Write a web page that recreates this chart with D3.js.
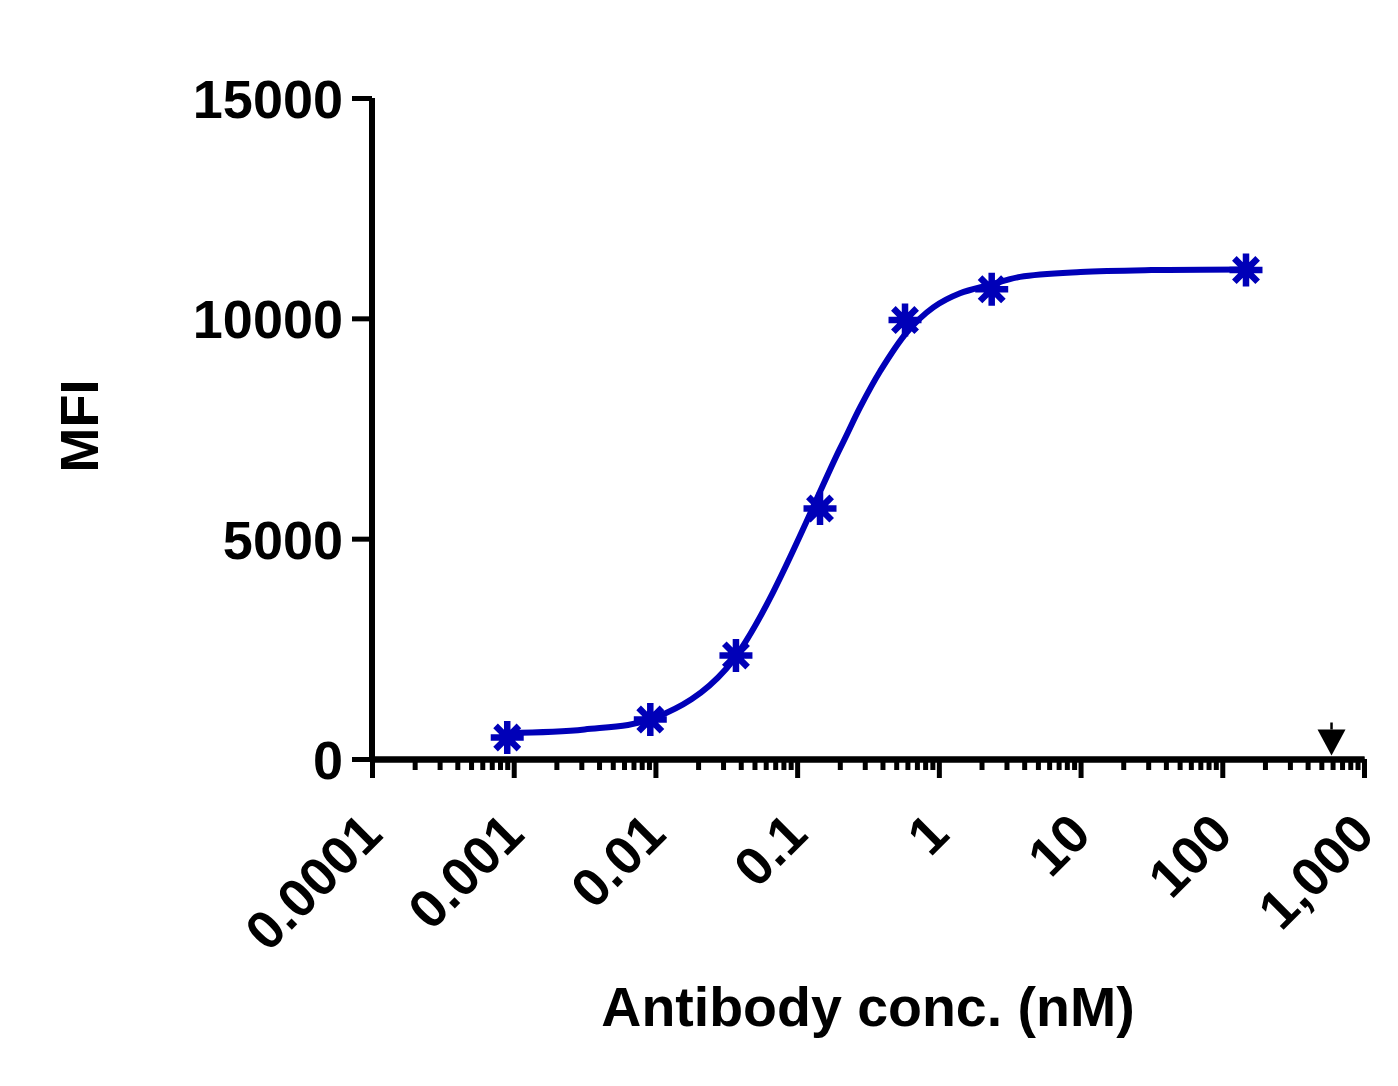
<!DOCTYPE html>
<html>
<head>
<meta charset="utf-8">
<script src="https://cdn.jsdelivr.net/npm/d3@7"></script>
<style>
  html, body { margin: 0; padding: 0; background: #fff; }
  text { font-family: "Liberation Sans", Arial, sans-serif; font-weight: bold; fill: #000; }
</style>
</head>
<body>
<div class="canvas"></div>
<script>
// measured points (nM, MFI)
const conc = [0.0009, 0.0092, 0.037, 0.145, 0.577, 2.36, 147];
const mfi = [488, 896, 2349, 5684, 9961, 10658, 11096];

// fitted curve
const curveConc = [0.0009, 0.00316, 0.01, 0.0316, 0.201, 0.278, 0.385, 0.593, 0.914, 1.41, 2.3, 3.74, 10, 31.6, 147];
const curveMfi = [590, 670, 940, 2050, 7050, 7980, 8800, 9680, 10250, 10570, 10760, 10940, 11050, 11095, 11110];

// control point (triangle)
const ctrlConc = [590];
const ctrlMfi = [420];

const xTicks = [0.0001, 0.001, 0.01, 0.1, 1, 10, 100, 1000];
const xTickLabels = ['0.0001', '0.001', '0.01', '0.1', '1', '10', '100', '1,000'];
const yTicks = [0, 5000, 10000, 15000];

const dims = { width: 1398, height: 1086 };
const plot = { left: 372, right: 1364, top: 98, bottom: 759 };
const blue = '#0000b8';

const svg = d3.select('.canvas')
    .append('svg')
    .attr('width', dims.width)
    .attr('height', dims.height)
;

const x = d3.scaleLog().domain([1e-4, 1e3]).range([plot.left, plot.right]);
const y = d3.scaleLinear().domain([0, 15000]).range([plot.bottom, plot.top]);

// minor x ticks 2..9 per decade
const minorTicks = [];
xTicks.slice(0, -1).forEach(d => {
    for (let k = 2; k <= 9; k++) minorTicks.push(d * k);
});

const styleAxis = (g) => {
    g.select('.domain').attr('stroke', '#000').attr('stroke-width', 6);
    g.selectAll('.tick line').attr('stroke', '#000').attr('stroke-width', 5);
};

// x axis: minor then major
svg.append('g')
    .attr('transform', `translate(0, ${plot.bottom})`)
    .call(d3.axisBottom(x).tickValues(minorTicks).tickSize(11).tickSizeOuter(0).tickFormat(''))
    .call(styleAxis)
;
svg.append('g')
    .attr('transform', `translate(0, ${plot.bottom})`)
    .call(d3.axisBottom(x).tickValues(xTicks).tickSize(19).tickSizeOuter(0).tickFormat(''))
    .call(styleAxis)
;

// rotated x labels
svg.append('g')
    .selectAll('text')
    .data(xTicks)
    .enter()
    .append('text')
    .attr('transform', d => `translate(${x(d) - 1}, 823) rotate(-45)`)
    .attr('text-anchor', 'end')
    .attr('dy', '0.36em')
    .attr('font-size', 54)
    .text((d, i) => xTickLabels[i])
;

// y axis
const yAxis = svg.append('g')
    .attr('transform', `translate(${plot.left}, 0)`)
    .call(d3.axisLeft(y).tickValues(yTicks).tickSize(20).tickSizeOuter(0).tickPadding(9).tickFormat(d3.format('d')))
    .call(styleAxis)
;
yAxis.selectAll('.tick text')
    .attr('font-size', 54)
    .attr('font-family', '"Liberation Sans", Arial, sans-serif')
    .attr('font-weight', 'bold')
    .attr('fill', '#000')
    .attr('dy', '0.36em')
;
yAxis.select('.domain').attr('d', `M0,${y(15000)}V${y(0)}`);

// axis titles
svg.append('text')
    .attr('x', 868)
    .attr('y', 1026)
    .attr('text-anchor', 'middle')
    .attr('font-size', 55.5)
    .text('Antibody conc. (nM)')
;
svg.append('text')
    .attr('transform', 'translate(98, 426) rotate(-90)')
    .attr('text-anchor', 'middle')
    .attr('font-size', 54)
    .text('MFI')
;

// fitted curve
const line = d3.line()
    .x(d => x(d[0]))
    .y(d => y(d[1]))
    .curve(d3.curveCatmullRom.alpha(0.5))
;
svg.append('path')
    .datum(curveConc.map((c, i) => [c, curveMfi[i]]))
    .attr('d', line)
    .attr('fill', 'none')
    .attr('stroke', blue)
    .attr('stroke-width', 6)
;

// asterisk markers
const star = (r) => {
    let p = '';
    for (let k = 0; k < 4; k++) {
        const a = k * Math.PI / 4;
        const dx = r * Math.sin(a), dy = r * Math.cos(a);
        p += `M${-dx},${-dy}L${dx},${dy}`;
    }
    return p;
};
svg.append('g')
    .selectAll('path')
    .data(conc.map((c, i) => [c, mfi[i]]))
    .enter()
    .append('path')
    .attr('transform', d => `translate(${x(d[0])}, ${y(d[1])})`)
    .attr('d', star(16.5))
    .attr('stroke', blue)
    .attr('stroke-width', 6.5)
    .attr('fill', 'none')
;

// control triangle
const ctrl = svg.append('g')
    .selectAll('g')
    .data(ctrlConc.map((c, i) => [c, ctrlMfi[i]]))
    .enter()
    .append('g')
    .attr('transform', d => `translate(${x(d[0])}, ${y(d[1])})`)
;
ctrl.append('path')
    .attr('d', 'M-14,-11L14,-11L0,15Z')
    .attr('fill', '#000');
ctrl.append('path')
    .attr('d', 'M0,-11V-18')
    .attr('stroke', '#000')
    .attr('stroke-width', 2.5);
</script>
</body>
</html>
